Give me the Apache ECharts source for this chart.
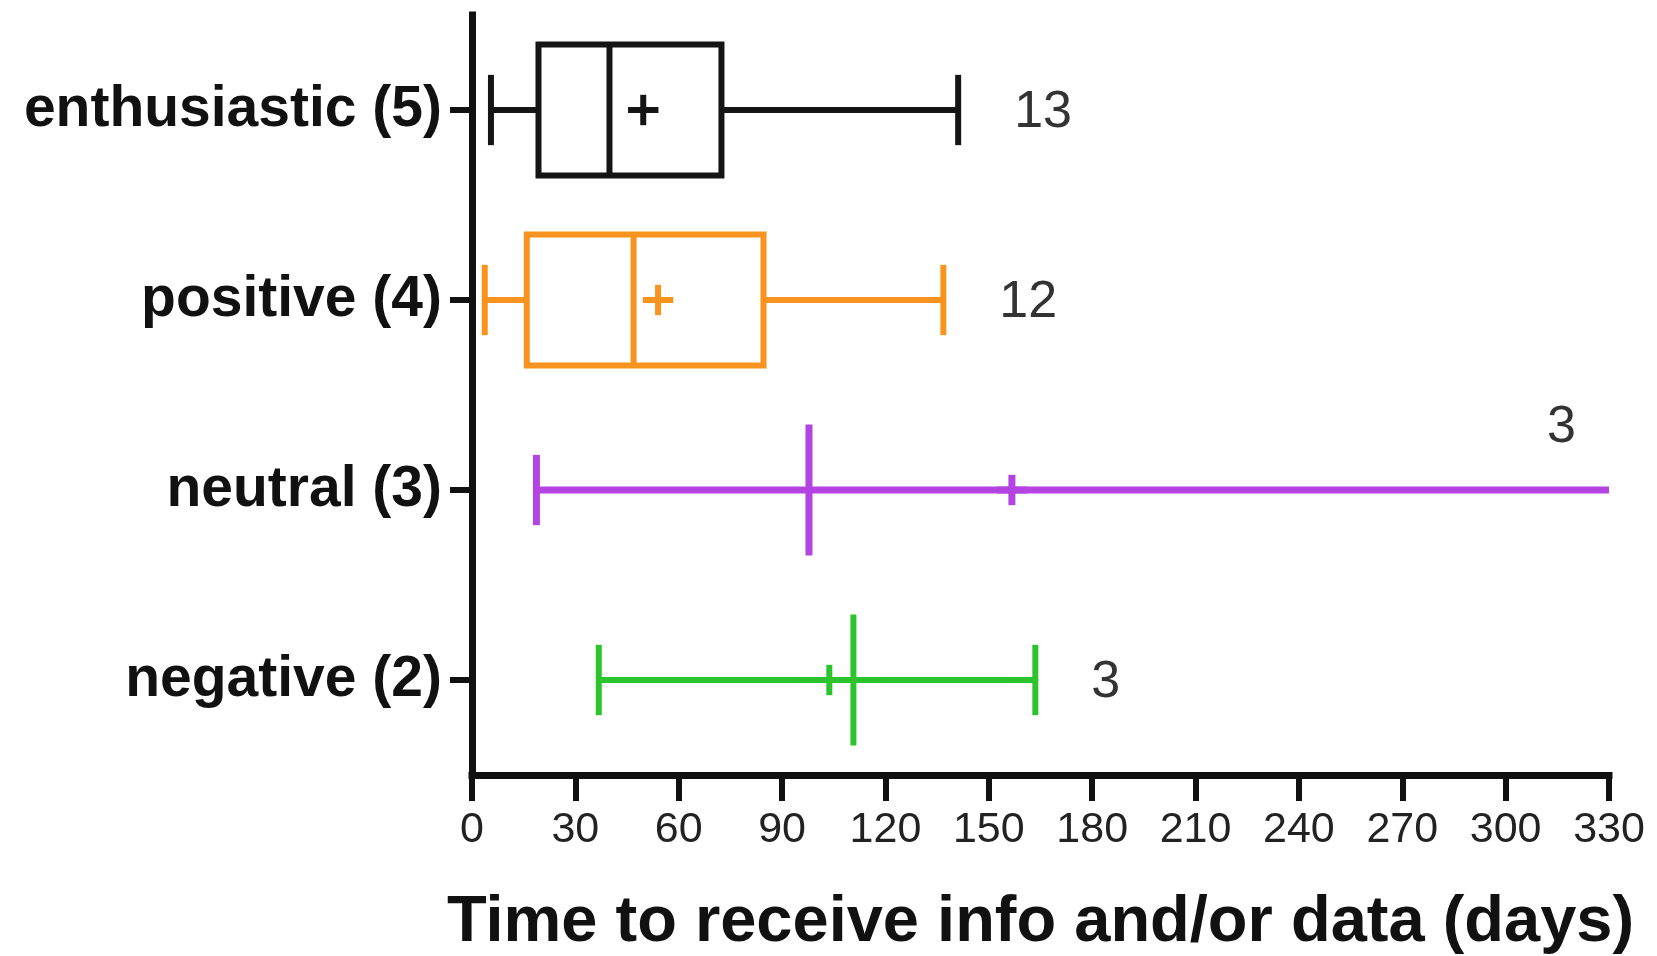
<!DOCTYPE html>
<html>
<head>
<meta charset="utf-8">
<script src="https://cdn.jsdelivr.net/npm/echarts@6/dist/echarts.min.js"></script>
<style>
html,body{margin:0;padding:0;background:#fff;}
#chart{width:1657px;height:956px;}
</style>
</head>
<body>
<div id="chart"></div>
<script>
// ---- data ----
const categories = ['enthusiastic (5)', 'positive (4)', 'neutral (3)', 'negative (2)'];
const mins    = [5.5, 3.7, 18.7, 36.8];
const q1s     = [19.3, 15.9, null, null];
const medians = [39.9, 46.9, 97.8, 110.7];
const means   = [49.7, 54.0, 156.7, 103.7];
const q3s     = [72.4, 84.6, null, null];
const maxs    = [141.1, 136.8, 353.6, 163.5];
const counts  = [13, 12, 3, 3];
const xMin = 0, xMax = 330, xInterval = 30;
const axisTitle = 'Time to receive info and/or data (days)';

// ---- styles ----
const seriesColors = ['#151515', '#F7931E', '#B444E2', '#2CC42C'];
const lineWidths = [6, 6, 7, 6];

const chart = echarts.init(document.getElementById('chart'));

function renderItem(params, api) {
  const i = params.dataIndex;
  const cs = params.coordSys;
  const right = cs.x + cs.width;
  const band = api.size([0, 1])[1];
  const color = seriesColors[i];
  const lw = lineWidths[i];
  const y = api.coord([0, i])[1];
  const X = v => api.coord([v, i])[0];
  const boxH = band * 0.69, capH = band * 0.37, meanH = band * 0.16;
  const st = {stroke: color, lineWidth: lw, fill: null};
  const children = [];
  const line = (x1, y1, x2, y2) => children.push({type: 'line', shape: {x1, y1, x2, y2}, style: st});

  const xmin = X(mins[i]);
  const xmaxRaw = X(maxs[i]);
  const xmax = Math.min(xmaxRaw, right);
  const xmed = X(medians[i]);
  const xmean = X(means[i]);

  if (q1s[i] != null && q3s[i] != null) {
    const xq1 = X(q1s[i]), xq3 = X(q3s[i]);
    line(xmin, y, xq1, y);
    line(xq3, y, xmax, y);
    children.push({type: 'rect', shape: {x: xq1, y: y - boxH / 2, width: xq3 - xq1, height: boxH}, style: st});
    line(xmed, y - boxH / 2, xmed, y + boxH / 2);
  } else {
    line(xmin, y, xmax, y);
    line(xmed, y - boxH / 2, xmed, y + boxH / 2);
  }
  // whisker caps
  line(xmin, y - capH / 2, xmin, y + capH / 2);
  if (xmaxRaw <= right) line(xmax, y - capH / 2, xmax, y + capH / 2);
  // mean "+"
  line(xmean, y - meanH / 2, xmean, y + meanH / 2);
  line(xmean - meanH / 2, y, xmean + meanH / 2, y);

  // n label
  let tx, ty;
  if (xmaxRaw <= right) { tx = xmax + 56; ty = y + 3; }
  else { tx = right - 62; ty = y - 62; }
  children.push({
    type: 'text',
    style: {
      text: String(counts[i]), x: tx, y: ty,
      align: 'left', verticalAlign: 'middle',
      font: 'normal 52px "Liberation Sans", Arial, sans-serif',
      fill: '#333'
    }
  });
  return {type: 'group', children};
}

const option = {
  animation: false,
  backgroundColor: '#fff',
  grid: {left: 472, right: 48, top: 15, bottom: 181, containLabel: false, outerBoundsMode: 'none'},
  xAxis: {
    type: 'value', min: xMin, max: xMax, interval: xInterval,
    axisLine: {show: true, lineStyle: {color: '#111', width: 7, cap: 'square'}},
    axisTick: {show: true, length: 26, lineStyle: {color: '#111', width: 6}},
    splitLine: {show: false},
    axisLabel: {
      margin: 34, color: '#222', fontSize: 43,
      fontFamily: '"Liberation Sans", Arial, sans-serif'
    },
    name: axisTitle, nameLocation: 'middle', nameGap: 116,
    nameTextStyle: {
      color: '#111', fontSize: 65, fontWeight: 'bold',
      fontFamily: '"Liberation Sans", Arial, sans-serif'
    }
  },
  yAxis: {
    type: 'category', data: categories, inverse: true,
    axisLine: {show: true, lineStyle: {color: '#111', width: 7, cap: 'square'}},
    axisTick: {show: true, alignWithLabel: true, length: 22, lineStyle: {color: '#111', width: 6}},
    splitLine: {show: false},
    axisLabel: {
      margin: 30, color: '#111', fontSize: 57, fontWeight: 'bold',
      fontFamily: '"Liberation Sans", Arial, sans-serif'
    }
  },
  series: [{
    type: 'custom',
    renderItem: renderItem,
    data: categories.map((c, i) => [mins[i], i]),
    encode: {x: 0, y: 1},
    clip: false
  }]
};
chart.setOption(option);
</script>
</body>
</html>
